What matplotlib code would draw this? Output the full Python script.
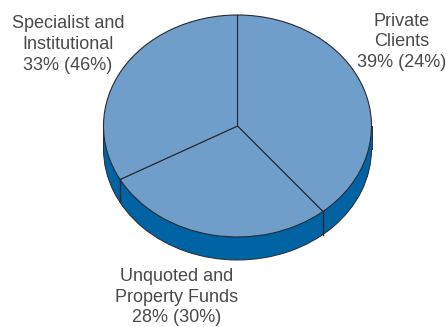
import numpy as np
from matplotlib import pyplot as plt
from matplotlib.patches import Rectangle

plt.rcParams['font.family'] = ['Liberation Sans', 'DejaVu Sans']

names = ["Private\nClients", "Unquoted and\nProperty Funds", "Specialist and\nInstitutional"]
current = [39, 28, 33]
previous = [24, 30, 46]

TOP = '#6f9ecb'
SIDE = '#0063a3'
EDGE = '#2a2a30'
TEXT = '#4a4a4c'

W, H = 446, 327
CX, CY = 237.5, 126   # pie centre in pixels from the top left
RX, RY = 134, 111
DEPTH = 23 / RY

fig = plt.figure(figsize=(W / 100, H / 100), dpi=100)
ax = fig.add_axes([0, 0, 1, 1])

# rim: lower disc plus a band joining it to the top disc
ax.pie([1], radius=1, center=(0, -DEPTH), colors=[SIDE],
       wedgeprops={'edgecolor': EDGE, 'linewidth': 0.7})
ax.add_patch(Rectangle((-1, -DEPTH), 2, DEPTH, facecolor=SIDE, edgecolor='none'))
ax.plot([-1, -1], [0, -DEPTH], color=EDGE, lw=0.7)
ax.plot([1, 1], [0, -DEPTH], color=EDGE, lw=0.7)

ax.pie(current, radius=1, center=(0, 0), startangle=90, counterclock=False,
       colors=[TOP], wedgeprops={'edgecolor': EDGE, 'linewidth': 0.8})

# slice boundaries carried down the front of the rim
for share in np.cumsum(current)[:-1]:
    a = np.pi / 2 - 2 * np.pi * share / sum(current)
    ax.plot([np.cos(a)] * 2, [np.sin(a), np.sin(a) - DEPTH], color=EDGE, lw=1.0)

ax.set_aspect('auto')
ax.set_xlim(-CX / RX, (W - CX) / RX)
ax.set_ylim(-(H - CY) / RY, CY / RY)
ax.axis('off')

anchors = [(402, 42), (177, 297), (68, 44.5)]
for name, cur, prev, (x, y) in zip(names, current, previous, anchors):
    fig.text(x / W, 1 - y / H, f"{name}\n{cur}% ({prev}%)", ha='center', va='center',
             fontsize=13, color=TEXT, linespacing=1.3)

fig.savefig('out.png', dpi=100)
